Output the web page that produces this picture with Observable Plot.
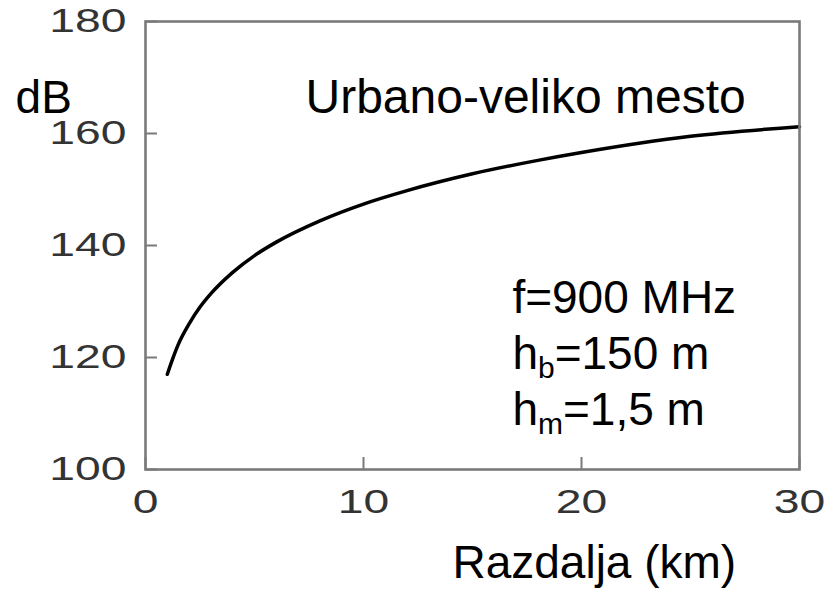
<!DOCTYPE html>
<html>
<head>
<meta charset="utf-8">
<script src="https://cdn.jsdelivr.net/npm/d3@7"></script>
<script src="https://cdn.jsdelivr.net/npm/@observablehq/plot@0.6"></script>
<style>
  html, body { margin: 0; padding: 0; background: #fff; }
  #chart svg { display: block; overflow: visible; }
</style>
</head>
<body>
<div id="chart"></div>
<script>
// Distance (km) and path loss (dB)
const distances = [1, 1.25, 1.5, 2, 2.5, 3, 4, 5, 6, 8, 10, 12, 15, 18, 20, 25, 30];
const lossDb    = [117.0, 119.8, 122.3, 126.0, 129.0, 131.4, 135.2, 138.2, 140.6, 144.4, 147.4, 149.8, 152.8, 155.2, 156.6, 159.5, 161.2];

// Axis ticks
const xTicks = [0, 10, 20, 30];
const yTicks = [100, 120, 140, 160, 180];

// Text labels
const yUnitLabel = "dB";
const xAxisTitle = "Razdalja (km)";
const curveTitle = "Urbano-veliko mesto";
const paramLines = [
  {main: "f=900 MHz", sub: "", rest: ""},
  {main: "h", sub: "b", rest: "=150 m"},
  {main: "h", sub: "m", rest: "=1,5 m"}
];

const rows = distances.map((d, i) => ({d, L: lossDb[i]}));

// Annotation anchors in data coordinates (km, dB)
const annotations = [
  {text: yUnitLabel, x: -5.96, y: 163.6},
  {text: curveTitle, x: 7.34, y: 163.6},
  {text: paramLines[0].main + paramLines[0].sub + paramLines[0].rest, x: 16.83, y: 128.0},
  {text: paramLines[1].main + paramLines[1].sub + paramLines[1].rest, x: 16.83, y: 118.0},
  {text: paramLines[2].main + paramLines[2].sub + paramLines[2].rest, x: 16.83, y: 107.9},
  {text: xAxisTitle, x: 14.08, y: 80.7}
];

const FONT = "'Liberation Sans', Arial, Helvetica, sans-serif";
const annotationSize = (d) => d.text === curveTitle ? 48 : 46;

const plot = Plot.plot({
  width: 829,
  height: 590,
  marginLeft: 145,
  marginRight: 30,
  marginTop: 21,
  marginBottom: 121,
  style: {fontFamily: FONT, background: "#fff", overflow: "visible"},
  x: {domain: [0, 30]},
  y: {domain: [100, 180]},
  marks: [
    Plot.line(rows, {x: "d", y: "L", stroke: "#000", strokeWidth: 3.5, curve: "monotone-x"}),
    Plot.frame({stroke: "#7a7a7a", strokeWidth: 2.6}),
    // inward ticks
    Plot.axisX({ticks: xTicks, tickSize: -12, tickFormat: () => "", stroke: "#7a7a7a", strokeWidth: 2, label: null}),
    Plot.axisY({ticks: yTicks, tickSize: -12, tickFormat: () => "", stroke: "#7a7a7a", strokeWidth: 2, label: null}),
    // tick labels
    Plot.axisX({ticks: xTicks, tickSize: 0, tickPadding: 19, fontSize: 34, fill: "#333", label: null}),
    Plot.axisY({ticks: yTicks, tickSize: 0, tickPadding: 19, fontSize: 34, fill: "#333", label: null}),
    // annotations
    Plot.text(annotations, {x: "x", y: "y", text: "text", textAnchor: "start", lineAnchor: "bottom",
      fontSize: annotationSize, fill: "#000"})
  ]
});

document.getElementById("chart").appendChild(plot);

const svg = d3.select(plot);
const tickLabelSet = new Set([...xTicks, ...yTicks].map(String));

svg.selectAll("text").each(function() {
  const el = d3.select(this);
  const content = this.textContent;
  // Widen numeric tick labels horizontally, as in the reference
  if (tickLabelSet.has(content)) {
    const t = el.attr("transform");
    if (t) {
      el.attr("transform", t + " scale(1.36,1)");
    } else {
      const x = +el.attr("x") || 0, y = +el.attr("y") || 0;
      el.attr("x", null).attr("y", null).attr("transform", `translate(${x},${y}) scale(1.36,1)`);
    }
    return;
  }
  // Subscripts in parameter lines
  const p = paramLines.find(p => p.sub && (p.main + p.sub + p.rest) === content);
  if (!p) return;
  el.text(null);
  el.append("tspan").text(p.main);
  el.append("tspan").attr("font-size", 30).attr("dy", 9).text(p.sub);
  el.append("tspan").attr("font-size", 46).attr("dy", -9).text(p.rest);
});
</script>
</body>
</html>
